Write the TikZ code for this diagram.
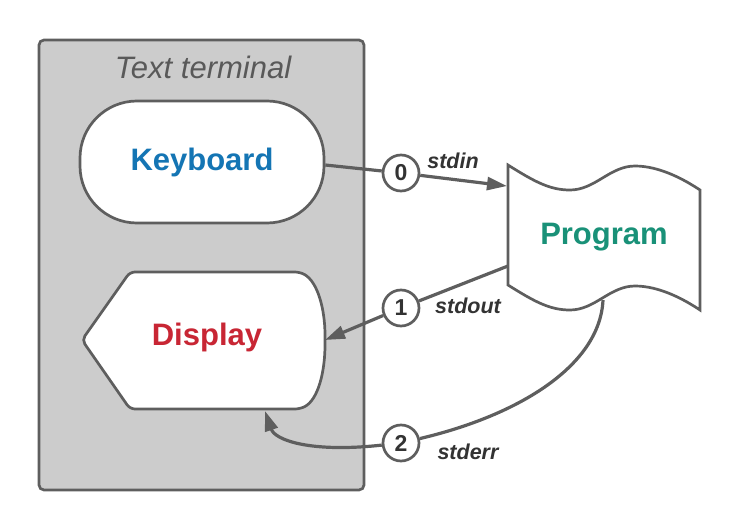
\documentclass[tikz,border=0pt]{standalone}
\usepackage{fontspec}
\setmainfont{Liberation Sans}
\usetikzlibrary{arrows.meta}
\definecolor{edge}{HTML}{5E5E5E}
\definecolor{termfill}{HTML}{CCCCCC}
\definecolor{kbblue}{RGB}{20,117,180}
\definecolor{dispred}{RGB}{200,38,52}
\definecolor{progteal}{RGB}{25,145,120}
\definecolor{labeldark}{HTML}{333333}
\definecolor{titlegray}{HTML}{595959}
\tikzset{
  shapeline/.style={draw=edge, line width=2.7pt, fill=white},
  bigtext/.style={font=\fontsize{31}{37}\selectfont\bfseries},
  fdnum/.style={circle, draw=edge, line width=2.7pt, fill=white, minimum size=36pt, inner sep=0pt, font=\fontsize{23}{27}\selectfont\bfseries, text=labeldark},
  streamlabel/.style={font=\fontsize{21.5}{26}\selectfont\bfseries\itshape, text=labeldark},
  conn/.style={draw=edge, line width=3.2pt},
  arr/.style={conn, -{Triangle[length=20pt,width=13pt]}},
}
\begin{document}
\begin{tikzpicture}[x=1pt,y=-1pt]
\useasboundingbox (0,0) rectangle (740,530);
% terminal box
\node[draw=edge, line width=2.7pt, fill=termfill, rounded corners=5pt, minimum width=325pt, minimum height=450pt] (term) at (201.5,265) {};
\node[font=\fontsize{31}{37}\selectfont\itshape, text=titlegray] (termtitle) at (203,67) {Text terminal};
% keyboard
\node[shapeline, rounded corners=57pt, minimum width=244pt, minimum height=122pt, bigtext, text=kbblue] (kb) at (202,162) {Keyboard};
% display
\draw[shapeline, rounded corners=5pt] (130,272) -- (300,272) .. controls (318,282) and (325,310) .. (325,340) .. controls (325,372) and (318,400) .. (300,409) -- (130,409) -- (82,340) -- cycle;
\node[bigtext, text=dispred] (disp) at (207,337) {Display};
% program
\draw[shapeline] (508,165) .. controls (535,182) and (550,190) .. (570,190) .. controls (595,190) and (610,166) .. (635,166) .. controls (660,166) and (685,180) .. (700,190)
  -- (700,310) .. controls (685,300) and (660,286) .. (635,286) .. controls (610,286) and (595,310) .. (570,310) .. controls (550,310) and (535,302) .. (508,285) -- cycle;
\node[bigtext, text=progteal] (prog) at (604,237) {Program};
\coordinate (pin) at (507,186);
\coordinate (pout) at (508,266);
\coordinate (perr) at (603,300);
\coordinate (dout) at (325,340);
\coordinate (derr) at (265,411);
% fd circles
\node[fdnum] (c0) at (401,173) {0};
\node[fdnum] (c1) at (401,308) {1};
\node[fdnum] (c2) at (401,443) {2};
\node[streamlabel] (lin) at (453,161) {stdin};
\node[streamlabel] (lout) at (468,306) {stdout};
\node[streamlabel] (lerr) at (468,452) {stderr};
% connectors
\draw[conn] ([yshift=-3pt]kb.east) -- (c0);
\draw[arr] (c0) -- (pin);
\draw[conn] (pout) -- (c1);
\draw[arr] (c1) -- (dout);
\draw[conn] (perr) .. controls (600,365) and (520,415) .. (c2);
\draw[arr] (c2) .. controls (310,453) and (275,440) .. (derr);
\end{tikzpicture}
\end{document}
